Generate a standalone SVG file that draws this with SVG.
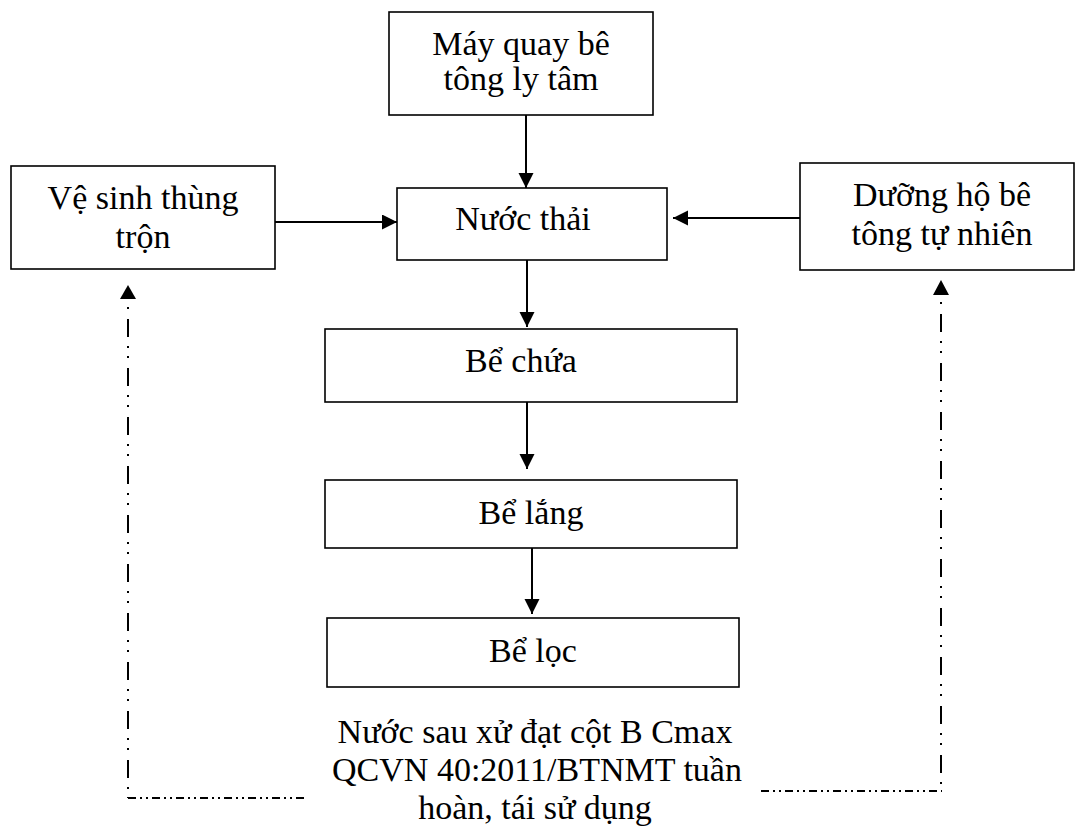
<svg xmlns="http://www.w3.org/2000/svg" width="1075" height="827" viewBox="0 0 1075 827">
<defs>
<style>
.box{fill:#fff;stroke:#000;stroke-width:1.6}
.t{font-family:"Liberation Serif","Times New Roman",serif;font-size:34px;fill:#000;text-anchor:middle}
.arr{stroke:#000;stroke-width:2;fill:none;marker-end:url(#ah)}
.dv{stroke:#000;stroke-width:2;fill:none;stroke-dasharray:2 10 18 9 2 8}
.dh{stroke:#000;stroke-width:1.8;fill:none;stroke-dasharray:8 4 2 4 2 4}
</style>
<marker id="ah" markerUnits="userSpaceOnUse" markerWidth="16" markerHeight="16" refX="15" refY="7.5" orient="auto">
<path d="M0,0 L15,7.5 L0,15 z" fill="#000"/>
</marker>
</defs>
<rect width="1075" height="827" fill="#fff"/>
<g id="connectors">
<line class="arr" x1="526" y1="115" x2="526" y2="188"/>
<line class="arr" x1="275" y1="222" x2="397" y2="222"/>
<line class="arr" x1="800" y1="218" x2="673" y2="218"/>
<line class="arr" x1="527" y1="260" x2="527" y2="327"/>
<line class="arr" x1="527" y1="402" x2="527" y2="469"/>
<line class="arr" x1="532" y1="548" x2="532" y2="614"/>
<line class="dv" x1="128" y1="307" x2="128" y2="798"/>
<line class="dh" x1="128" y1="798" x2="307" y2="798"/>
<polygon points="128,285 120,299 136,299" fill="#000"/>
<line class="dv" x1="941" y1="302" x2="941" y2="791"/>
<line class="dh" x1="761" y1="791" x2="942" y2="791"/>
<polygon points="941,280 933,295 949,295" fill="#000"/>
</g>
<g id="node-mayquay">
<rect class="box" x="389" y="12" width="264" height="103"/>
<text class="t" x="521" y="55">Máy quay bê</text>
<text class="t" x="521" y="90">tông ly tâm</text>
</g>
<g id="node-vesinh">
<rect class="box" x="11" y="166" width="264" height="103"/>
<text class="t" x="143" y="209">Vệ sinh thùng</text>
<text class="t" x="143" y="248">trộn</text>
</g>
<g id="node-nuocthai">
<rect class="box" x="397" y="188" width="270" height="72"/>
<text class="t" x="523" y="230">Nước thải</text>
</g>
<g id="node-duongho">
<rect class="box" x="800" y="163" width="274" height="107"/>
<text class="t" x="942" y="206">Dưỡng hộ bê</text>
<text class="t" x="942" y="245">tông tự nhiên</text>
</g>
<g id="node-bechua">
<rect class="box" x="325" y="329" width="412" height="73"/>
<text class="t" x="521" y="372">Bể chứa</text>
</g>
<g id="node-belang">
<rect class="box" x="325" y="480" width="412" height="68"/>
<text class="t" x="531" y="524">Bể lắng</text>
</g>
<g id="node-beloc">
<rect class="box" x="327" y="618" width="412" height="69"/>
<text class="t" x="533" y="662">Bể lọc</text>
</g>
<g id="node-output">
<text class="t" x="535" y="743">Nước sau xử đạt cột B Cmax</text>
<text class="t" x="537" y="781">QCVN 40:2011/BTNMT tuần</text>
<text class="t" x="535" y="819">hoàn, tái sử dụng</text>
</g>
</svg>
